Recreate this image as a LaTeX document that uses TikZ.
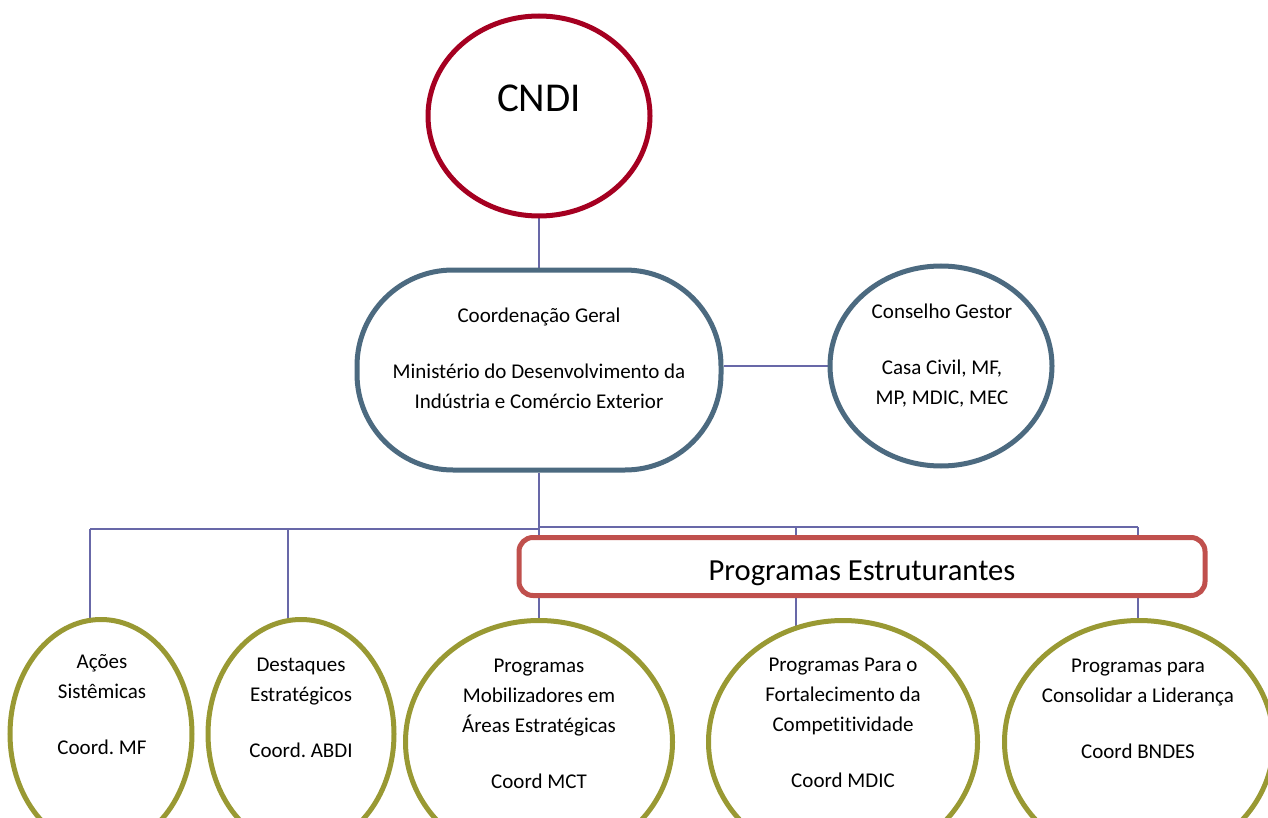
\documentclass[tikz,border=0pt]{standalone}
\usepackage{fontspec}
\setmainfont{Carlito}[Ligatures=NoCommon]
\frenchspacing
\usetikzlibrary{shapes.geometric,backgrounds}

\definecolor{cndired}{RGB}{165,0,33}
\definecolor{slate}{RGB}{76,106,128}
\definecolor{olive}{RGB}{153,153,51}
\definecolor{boxred}{RGB}{192,80,77}
\definecolor{linkblue}{RGB}{104,104,168}

\tikzset{
  oval/.style={ellipse, draw, line width=2.5pt, fill=white, inner sep=0pt},
  link/.style={draw=linkblue, line width=0.9pt},
  txt/.style={align=center, anchor=base, inner sep=0pt, font=\fontsize{10.5}{15}\selectfont},
}

\begin{document}
\begin{tikzpicture}[x=0.5pt,y=-0.5pt]
		\useasboundingbox (0,0) rectangle (1268,818);
		\clip (0,0) rectangle (1268,818);
		% top of the chart
		\node[oval, draw=cndired, minimum width=111pt, minimum height=100pt] (cndi) at (539,116) {};
		\node[draw=slate, line width=2.5pt, fill=white, rounded corners=48pt, minimum width=182pt, minimum height=100pt] (coord) at (539,370) {};
		\node[oval, draw=slate, minimum width=111pt, minimum height=100pt] (gestor) at (941,366) {};
		% lower row
		\node[oval, draw=olive, minimum width=91pt, minimum height=114.5pt] (acoes) at (101,734) {};
		\node[oval, draw=olive, minimum width=93pt, minimum height=114.5pt] (destaques) at (301,734) {};
		\node[oval, draw=olive, minimum width=133.5pt, minimum height=121.5pt] (mobil) at (539,742) {};
		\node[oval, draw=olive, minimum width=134.5pt, minimum height=121.5pt] (fortal) at (843,742) {};
		\node[oval, draw=olive, minimum width=134.5pt, minimum height=121.5pt] (consol) at (1139,742) {};
		\node[draw=boxred, line width=2.5pt, fill=white, rounded corners=7pt, minimum width=343pt, minimum height=29pt] (estr) at (862,566.5) {};
		% bus points
		\coordinate (hub) at (539,529);
		\coordinate (hubr) at (539,527);
		\coordinate (d1) at (90,529);
		\coordinate (d2) at (288,529);
		\coordinate (d4) at (796,527);
		\coordinate (d5) at (1138,527);
		\begin{scope}[on background layer]
			\draw[link] (cndi) -- (coord);
			\draw[link] (gestor.west) -- (gestor.west -| coord.east);
			\draw[link] (coord.south) -- (hub);
			\draw[link] (d1) -- (hub);
			\draw[link] (d1) -- (d1 |- acoes.center);
			\draw[link] (d2) -- (d2 |- destaques.center);
			\draw[link] (hubr) -- (d5);
			\draw[link] (hubr) -- (mobil.center);
			\draw[link] (d4) -- (d4 |- fortal.center);
			\draw[link] (d5) -- (d5 |- consol.center);
		\end{scope}
		% texts (base = last line)
		\node[txt, font=\fontsize{20.5}{24}\selectfont] (cnditxt) at (539,112) {CNDI};
		\node[txt] (coordtxt) at (539,408) {Coordenação Geral\\[13pt]Ministério do Desenvolvimento da\\Indústria e Comércio Exterior};
		\node[txt] (gestortxt) at (942,404) {Conselho Gestor\\[13pt]Casa Civil, MF,\\MP, MDIC, MEC};
		\node[txt, font=\fontsize{15.3}{18}\selectfont] (estrtxt) at (862,580) {Programas Estruturantes};
		\node[txt] (acoestxt) at (102,754) {Ações\\Sistêmicas\\[13pt]Coord. MF};
		\node[txt] (destaquestxt) at (301,757) {Destaques\\Estratégicos\\[13pt]Coord. ABDI};
		\node[txt] (mobiltxt) at (539,788) {Programas\\Mobilizadores em\\Áreas Estratégicas\\[13pt]Coord MCT};
		\node[txt] (fortaltxt) at (843,787) {Programas Para o\\Fortalecimento da\\Competitividade\\[13pt]Coord MDIC};
		\node[txt] (consoltxt) at (1138,758) {Programas para\\Consolidar a Liderança\\[13pt]Coord BNDES};
	\end{tikzpicture}
\end{document}
